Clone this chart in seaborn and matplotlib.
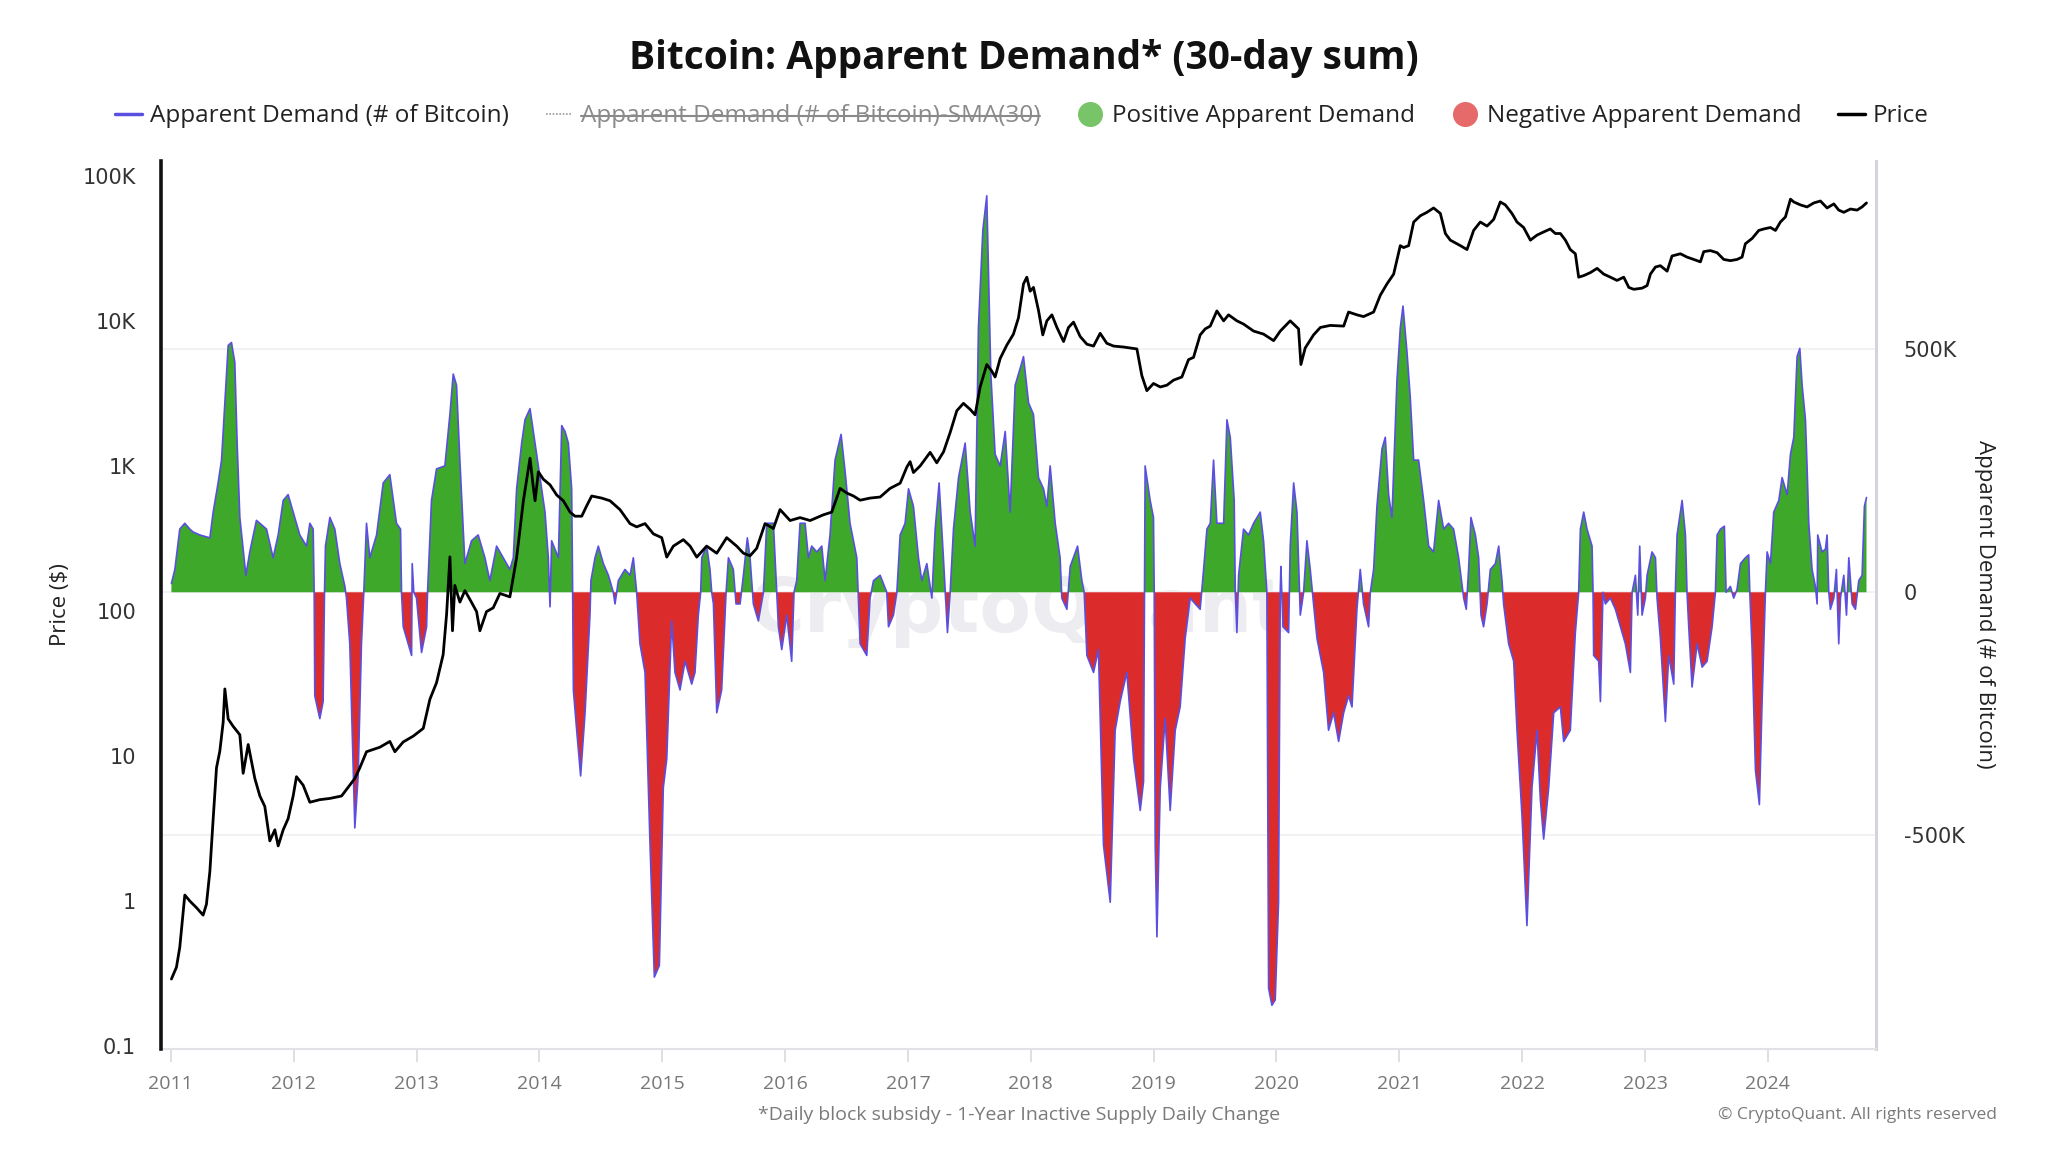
import numpy as np
import pandas as pd
import matplotlib
matplotlib.use("Agg")
import matplotlib.pyplot as plt
import seaborn as sns
from matplotlib.lines import Line2D

# ---------------- data ----------------
years = list(range(2011, 2025))
year_labels = [str(y) for y in years]

price_ticks = [0.1, 1, 10, 100, 1000, 10000, 100000]
price_tick_labels = ["0.1", "1", "10", "100", "1K", "10K", "100K"]
demand_ticks = [-500000, 0, 500000]
demand_tick_labels = ["-500K", "0", "500K"]

# Apparent demand, 30-day sum (thousands of BTC)
demand_year = [
    2011.005, 2011.033, 2011.073, 2011.114, 2011.155, 2011.182, 2011.236, 2011.318, 2011.345, 2011.385,
    2011.413, 2011.440, 2011.467, 2011.494, 2011.521, 2011.540, 2011.562, 2011.611, 2011.643, 2011.697,
    2011.779, 2011.833, 2011.874, 2011.915, 2011.955, 2011.996, 2012.050, 2012.105, 2012.132, 2012.159,
    2012.167, 2012.172, 2012.213, 2012.240, 2012.251, 2012.259, 2012.295, 2012.335, 2012.376, 2012.417,
    2012.430, 2012.457, 2012.498, 2012.525, 2012.552, 2012.571, 2012.593, 2012.620, 2012.675, 2012.729,
    2012.783, 2012.837, 2012.870, 2012.878, 2012.892, 2012.960, 2012.965, 2012.978, 2013.000, 2013.041,
    2013.082, 2013.090, 2013.122, 2013.163, 2013.231, 2013.272, 2013.299, 2013.326, 2013.353, 2013.394,
    2013.448, 2013.502, 2013.557, 2013.597, 2013.652, 2013.706, 2013.760,
    2013.788, 2013.815, 2013.856, 2013.883, 2013.924, 2013.951, 2013.978, 2014.005, 2014.046, 2014.073,
    2014.087, 2014.100, 2014.155, 2014.182, 2014.209, 2014.236, 2014.263, 2014.271, 2014.277, 2014.304,
    2014.336, 2014.372, 2014.412, 2014.420, 2014.453, 2014.480, 2014.521, 2014.562, 2014.602, 2014.616,
    2014.643, 2014.697, 2014.738, 2014.765, 2014.792, 2014.819, 2014.860, 2014.901, 2014.936, 2014.977,
    2015.009, 2015.037, 2015.077, 2015.104, 2015.145, 2015.186, 2015.240, 2015.267, 2015.294, 2015.313,
    2015.322, 2015.362, 2015.389, 2015.403, 2015.417, 2015.444, 2015.484, 2015.520, 2015.539, 2015.579,
    2015.601, 2015.634, 2015.661, 2015.693, 2015.715, 2015.742, 2015.783, 2015.824, 2015.851, 2015.905,
    2015.932, 2015.946, 2015.973, 2016.014, 2016.054, 2016.073, 2016.095, 2016.122, 2016.163, 2016.190,
    2016.217, 2016.258, 2016.299, 2016.326, 2016.366, 2016.407, 2016.456, 2016.489, 2016.529, 2016.584,
    2016.611,
    2016.665, 2016.692, 2016.720, 2016.774, 2016.828, 2016.842, 2016.882, 2016.910, 2016.937, 2016.977,
    2017.005, 2017.045, 2017.086, 2017.113, 2017.154, 2017.195, 2017.222, 2017.254, 2017.289, 2017.322,
    2017.344, 2017.371, 2017.412, 2017.466, 2017.507, 2017.547, 2017.574, 2017.610, 2017.642, 2017.675,
    2017.710, 2017.751, 2017.792, 2017.832, 2017.873, 2017.914, 2017.941, 2017.982, 2018.022, 2018.063,
    2018.104, 2018.131, 2018.158, 2018.199, 2018.239, 2018.253, 2018.294, 2018.321, 2018.381, 2018.416,
    2018.435, 2018.457, 2018.511, 2018.551, 2018.592, 2018.647, 2018.687, 2018.728, 2018.782, 2018.837,
    2018.891, 2018.918, 2018.926, 2018.931, 2018.972, 2018.999, 2019.005, 2019.013, 2019.027, 2019.054,
    2019.094, 2019.135, 2019.176, 2019.216, 2019.257, 2019.298, 2019.339, 2019.379, 2019.407, 2019.434,
    2019.461,
    2019.488, 2019.515, 2019.570, 2019.597, 2019.624, 2019.656, 2019.665, 2019.678, 2019.692, 2019.732,
    2019.773, 2019.814, 2019.868, 2019.895, 2019.922, 2019.936, 2019.963, 2019.990, 2020.017, 2020.031,
    2020.036, 2020.053, 2020.099, 2020.112, 2020.140, 2020.167, 2020.194, 2020.221, 2020.248, 2020.275,
    2020.302, 2020.330, 2020.384, 2020.424, 2020.465, 2020.506, 2020.547, 2020.587, 2020.615, 2020.655,
    2020.682, 2020.709, 2020.750, 2020.764, 2020.791, 2020.818, 2020.859, 2020.886, 2020.913, 2020.940,
    2020.981, 2021.008, 2021.030, 2021.062, 2021.089, 2021.117, 2021.157, 2021.198, 2021.239, 2021.279,
    2021.320, 2021.361, 2021.401, 2021.442, 2021.483, 2021.524, 2021.545, 2021.564, 2021.583, 2021.619,
    2021.646, 2021.665, 2021.686, 2021.714, 2021.741, 2021.782, 2021.809, 2021.836, 2021.849, 2021.890,
    2021.931, 2021.958, 2021.999, 2022.039, 2022.080, 2022.121, 2022.148, 2022.175, 2022.216, 2022.257,
    2022.311,
    2022.338, 2022.392, 2022.433, 2022.460, 2022.474, 2022.501, 2022.528, 2022.569, 2022.577, 2022.582,
    2022.623, 2022.637, 2022.658, 2022.677, 2022.718, 2022.759, 2022.800, 2022.840, 2022.881, 2022.895,
    2022.922, 2022.941, 2022.957, 2022.976, 2023.003, 2023.017, 2023.057, 2023.085, 2023.098, 2023.125,
    2023.166, 2023.193, 2023.234, 2023.247, 2023.261, 2023.302, 2023.329, 2023.342, 2023.356, 2023.383,
    2023.424, 2023.465, 2023.505, 2023.546, 2023.573, 2023.587, 2023.614, 2023.646, 2023.660, 2023.695,
    2023.722, 2023.749, 2023.777, 2023.817, 2023.844, 2023.853, 2023.872, 2023.899, 2023.931, 2023.953,
    2023.980, 2023.994, 2024.021, 2024.048, 2024.089, 2024.116, 2024.157, 2024.184, 2024.211, 2024.238,
    2024.260, 2024.279, 2024.306, 2024.319, 2024.333, 2024.360, 2024.387, 2024.401, 2024.406, 2024.441,
    2024.469, 2024.482, 2024.496, 2024.509, 2024.537, 2024.558, 2024.577, 2024.591, 2024.618, 2024.640,
    2024.659, 2024.686, 2024.713, 2024.740, 2024.767, 2024.786, 2024.803,
]
demand_k = [
    18, 47, 130, 142, 130, 124, 118, 112, 165, 225,
    272, 390, 508, 514, 473, 307, 154, 35, 83, 148,
    130, 71, 118, 189, 201, 165, 118, 95, 142, 130,
    0, -213, -260, -225, 0, 95, 154, 130, 59, 12,
    -12, -106, -485, -378, -106, 0, 142, 71, 118, 225,
    242, 142, 130, 0, -71, -130, 59, 0, -12, -124,
    -71, 0, 189, 254, 260, 366, 449, 426, 272, 59,
    106, 118, 71, 24, 95, 71, 47,
    71, 213, 307, 355, 378, 331, 284, 236, 165, 71,
    -30, 106, 71, 343, 331, 307, 213, 0, -201, -284,
    -378, -248, -47, 24, 71, 95, 59, 35, 0, -24,
    24, 47, 35, 71, 0, -106, -165, -520, -792, -768,
    -402, -343, -59, -165, -201, -142, -189, -165, -47, 0,
    71, 95, 47, 0, -24, -248, -201, 0, 71, 47,
    -24, -24, 35, 112, 71, -24, -59, 0, 142, 142,
    0, -71, -118, -47, -142, 0, 24, 142, 142, 71,
    95, 83, 95, 24, 118, 272, 325, 248, 142, 71,
    -106,
    -130, -12, 24, 35, 0, -71, -47, 0, 118, 142,
    213, 177, 71, 24, 59, -12, 130, 225, 71, -83,
    0, 130, 236, 307, 165, 95, 544, 745, 816, 449,
    284, 260, 331, 165, 426, 461, 485, 390, 366, 236,
    213, 177, 260, 142, 71, -12, -35, 53, 95, 24,
    0, -130, -165, -118, -520, -638, -284, -225, -165, -343,
    -449, -390, 0, 260, 189, 154, 0, -520, -709, -402,
    -260, -449, -284, -236, -95, -12, -24, -35, 47, 130,
    142,
    272, 142, 142, 355, 319, 189, 0, -83, 35, 130,
    118, 142, 165, 106, 0, -815, -850, -839, -638, 0,
    53, -71, -83, 95, 225, 165, -47, 0, 106, 47,
    -24, -95, -165, -284, -248, -307, -248, -213, -236, -35,
    47, -24, -71, 0, 47, 177, 295, 319, 201, 154,
    437, 544, 589, 496, 402, 272, 272, 189, 95, 83,
    189, 130, 142, 130, 71, -12, -35, 47, 154, 118,
    71, -47, -71, -24, 47, 59, 95, 24, -24, -106,
    -142, -284, -461, -686, -402, -284, -426, -508, -402, -248,
    -236,
    -307, -284, -83, 0, 130, 165, 130, 95, 0, -130,
    -142, -225, 0, -24, -12, -35, -71, -106, -165, 0,
    35, -47, 95, -47, -12, 35, 83, 71, -12, -95,
    -266, -130, -189, 0, 118, 189, 118, 0, -71, -195,
    -106, -154, -142, -71, 0, 118, 130, 136, 0, 12,
    -12, 6, 59, 71, 77, 0, -118, -366, -437, -225,
    0, 83, 59, 165, 189, 236, 201, 284, 319, 485,
    502, 426, 355, 260, 142, 47, 12, -24, 118, 83,
    89, 118, 0, -35, -12, 47, -106, -12, 35, -47,
    71, -24, -35, 24, 35, 177, 195,
]

# Bitcoin price (USD)
price_year = [
    2011.005, 2011.046, 2011.073, 2011.114, 2011.155, 2011.209, 2011.263, 2011.290, 2011.318, 2011.345,
    2011.372, 2011.399, 2011.426, 2011.440, 2011.467, 2011.508, 2011.562, 2011.589, 2011.630, 2011.684,
    2011.725, 2011.765, 2011.806, 2011.847, 2011.874, 2011.915, 2011.955, 2011.996, 2012.023, 2012.077,
    2012.132, 2012.213, 2012.295, 2012.390, 2012.457, 2012.498, 2012.539, 2012.593, 2012.634, 2012.702,
    2012.783, 2012.824, 2012.892, 2012.973, 2013.055, 2013.109, 2013.163, 2013.217, 2013.245, 2013.272,
    2013.293, 2013.312, 2013.353, 2013.394, 2013.435, 2013.489, 2013.516, 2013.570, 2013.624, 2013.679,
    2013.760,
    2013.815, 2013.870, 2013.924, 2013.951, 2013.965, 2013.992, 2014.032, 2014.087, 2014.141, 2014.195,
    2014.250, 2014.290, 2014.345, 2014.385, 2014.426, 2014.507, 2014.575, 2014.656, 2014.738, 2014.792,
    2014.860, 2014.928, 2014.996, 2015.037, 2015.091, 2015.172, 2015.227, 2015.281, 2015.362, 2015.444,
    2015.525, 2015.606, 2015.661, 2015.715, 2015.769, 2015.837, 2015.905, 2015.959, 2016.041, 2016.122,
    2016.204, 2016.312, 2016.380, 2016.448, 2016.502, 2016.557, 2016.611,
    2016.692, 2016.774, 2016.855, 2016.937, 2016.991, 2017.018, 2017.045, 2017.100, 2017.181, 2017.235,
    2017.290, 2017.344, 2017.398, 2017.452, 2017.507, 2017.547, 2017.588, 2017.642, 2017.683, 2017.710,
    2017.751, 2017.805, 2017.859, 2017.900, 2017.941, 2017.968, 2017.995, 2018.022, 2018.063, 2018.098,
    2018.131, 2018.172, 2018.213, 2018.267, 2018.307, 2018.348, 2018.402, 2018.457, 2018.511, 2018.565,
    2018.619, 2018.674, 2018.755, 2018.864, 2018.904, 2018.945, 2018.999, 2019.054, 2019.108, 2019.162,
    2019.230, 2019.284, 2019.325, 2019.379, 2019.420, 2019.461,
    2019.515, 2019.570, 2019.610, 2019.678, 2019.732, 2019.814, 2019.895, 2019.977, 2020.031, 2020.112,
    2020.180, 2020.199, 2020.234, 2020.302, 2020.357, 2020.438, 2020.547, 2020.587, 2020.655, 2020.709,
    2020.791, 2020.845, 2020.900, 2020.954, 2021.008, 2021.035, 2021.076, 2021.117, 2021.171, 2021.225,
    2021.279, 2021.334, 2021.375, 2021.415, 2021.497, 2021.551, 2021.605, 2021.659, 2021.714, 2021.768,
    2021.822, 2021.863, 2021.917, 2021.958, 2022.012, 2022.067, 2022.121, 2022.175, 2022.229, 2022.270,
    2022.311,
    2022.352, 2022.392, 2022.433, 2022.460, 2022.501, 2022.555, 2022.610, 2022.664, 2022.718, 2022.772,
    2022.827, 2022.868, 2022.908, 2022.976, 2023.017, 2023.044, 2023.085, 2023.125, 2023.180, 2023.220,
    2023.288, 2023.342, 2023.397, 2023.451, 2023.478, 2023.532, 2023.587, 2023.641, 2023.695, 2023.749,
    2023.790, 2023.817, 2023.872, 2023.926, 2023.967, 2024.021, 2024.062, 2024.102, 2024.143, 2024.184,
    2024.211, 2024.265, 2024.319, 2024.374, 2024.428, 2024.482, 2024.537, 2024.577, 2024.618, 2024.672,
    2024.726, 2024.767, 2024.803,
]
price_usd = [
    0.29, 0.35, 0.48, 1.1, 1.0, 0.9, 0.8, 0.95, 1.6, 3.7,
    8.3, 10.8, 17, 29, 18, 16, 14, 7.6, 12, 7,
    5.3, 4.5, 2.6, 3.1, 2.4, 3.1, 3.7, 5.3, 7.2, 6.3,
    4.8, 5.0, 5.1, 5.3, 6.3, 7.0, 8.3, 10.7, 11, 11.5,
    12.6, 10.7, 12.5, 13.7, 15.5, 24.6, 32, 50, 95, 236,
    73, 150, 115, 138, 120, 99, 73, 99, 105, 132,
    125,
    233, 575, 1130, 710, 575, 910, 810, 740, 630, 575,
    480, 450, 450, 530, 620, 600, 575, 500, 400, 380,
    400, 340, 320, 235, 280, 310, 280, 235, 280, 250,
    320, 280, 250, 240, 270, 400, 370, 500, 420, 440,
    420, 460, 480, 700, 650, 620, 580,
    600, 610, 700, 760, 980, 1070, 900, 1000, 1240, 1050,
    1250, 1700, 2400, 2700, 2450, 2250, 3500, 5000, 4500, 4100,
    5500, 6800, 8100, 10500, 18000, 20000, 16000, 17000, 11800, 8000,
    10000, 11000, 9000, 7200, 9000, 9800, 7800, 6900, 6700, 8200,
    7000, 6700, 6600, 6400, 4200, 3300, 3700, 3500, 3600, 3900,
    4100, 5400, 5600, 8000, 8800, 9200,
    11700, 10000, 11000, 10000, 9500, 8500, 8100, 7300, 8500, 10000,
    8800, 5000, 6500, 8000, 9000, 9300, 9200, 11500, 11000, 10700,
    11500, 15000, 18000, 21000, 33000, 32000, 33000, 48000, 53000, 56000,
    60000, 55000, 40000, 36000, 33000, 31000, 42000, 48000, 45000, 50000,
    66000, 63000, 55000, 48000, 44000, 36000, 39000, 41000, 43000, 40000,
    40000,
    36000, 31000, 29000, 20000, 20500, 21500, 23000, 21000, 20000, 19000,
    20000, 17000, 16500, 16800, 17500, 21000, 23500, 24000, 22000, 28000,
    29000, 27500, 26500, 25500, 30000, 30500, 29500, 26500, 26000, 26500,
    27500, 34000, 37000, 42000, 43000, 44000, 42000, 48000, 52000, 69000,
    66000, 63000, 61000, 65000, 67000, 60000, 64000, 58000, 56000, 59000,
    58000, 61000, 65000,
]

legend_labels = ["Apparent Demand (# of Bitcoin)", "Apparent Demand (# of Bitcoin)-SMA(30)",
                 "Positive Apparent Demand", "Negative Apparent Demand", "Price"]

# ---------------- styling ----------------
GREEN = "#3ea82a"
RED = "#dc2b2b"
BLUE = "#5b4fe0"
GREEN_LEG = "#78c468"
RED_LEG = "#e66a6a"

sns.set_theme(style="white")
plt.rcParams['font.family'] = ['Open Sans', 'DejaVu Sans']

fig = plt.figure(figsize=(20.48, 11.52), dpi=100)
ax = fig.add_axes([0.0786, 0.0894, 0.8374, 0.7706])   # demand (right axis), drawn first
ax2 = ax.twinx()                                     # price (left axis, log), drawn on top

dem = pd.DataFrame({"year": demand_year, "btc": np.array(demand_k, dtype=float) * 1000})
pr = pd.DataFrame({"year": price_year, "price": price_usd})

# watermark
ax.text(2017.9, -40000, "CryptoQuant", fontsize=54, color="#ececf1", ha="center", va="center",
        zorder=0, fontweight="bold", family=["DejaVu Sans"])

ax.fill_between(dem.year, dem.btc, 0, where=dem.btc >= 0, interpolate=True, color=GREEN, lw=0, zorder=2)
ax.fill_between(dem.year, dem.btc, 0, where=dem.btc <= 0, interpolate=True, color=RED, lw=0, zorder=2)
sns.lineplot(data=dem, x="year", y="btc", ax=ax, color=BLUE, lw=1.2, legend=False, zorder=3, sort=False)

ax2.set_yscale("log")
sns.lineplot(data=pr, x="year", y="price", ax=ax2, color="black", lw=2.0, legend=False, sort=False)

# limits
ax.set_xlim(2010.92, 2024.88)
ax.set_ylim(-940000, 887000)
ax2.set_ylim(10 ** -1.02, 10 ** 5.10)

# axes placement
ax.yaxis.tick_right()
ax2.yaxis.tick_left()
ax.set_xlabel("")
ax.set_ylabel("")
ax2.set_xlabel("")
ax2.set_ylabel("")

ax.set_yticks(demand_ticks)
ax.set_yticklabels(demand_tick_labels)
ax.grid(axis="y", color="#f0f0f2", lw=1.2, zorder=0)
ax.grid(axis="x", visible=False)
ax.set_axisbelow(True)

ax2.set_yticks(price_ticks)
ax2.set_yticklabels(price_tick_labels)
ax2.yaxis.set_minor_locator(matplotlib.ticker.NullLocator())
ax2.grid(False)

ax.set_xticks(years)
ax.set_xticklabels(year_labels)

ax.tick_params(axis="y", which="both", length=0, pad=20, labelsize=15, labelcolor="#333333",
               labelfontfamily="DejaVu Sans")
ax2.tick_params(axis="y", which="both", length=0, pad=18, labelsize=15, labelcolor="#333333",
                labelfontfamily="DejaVu Sans")
ax.tick_params(axis="x", length=9, width=1.2, color="#d8d8de", pad=10, labelsize=14, labelcolor="#777777",
               direction="out", bottom=True)

for s in ["top", "left"]:
    ax.spines[s].set_visible(False)
ax.spines["right"].set_color("#d4d4dc")
ax.spines["right"].set_linewidth(2.2)
ax.spines["bottom"].set_color("#e2e2e6")
ax.spines["bottom"].set_linewidth(1.5)
for s in ["top", "right", "bottom"]:
    ax2.spines[s].set_visible(False)
ax2.spines["left"].set_color("#111111")
ax2.spines["left"].set_linewidth(2.6)

# axis titles
fig.text(0.0293, 0.475, "Price ($)", rotation=90, ha="center", va="center", fontsize=16, color="#222222")
fig.text(0.969, 0.475, "Apparent Demand (# of Bitcoin)", rotation=270, ha="center", va="center",
         fontsize=16, color="#222222")

# title
fig.text(0.4997, 0.949, "Bitcoin: Apparent Demand* (30-day sum)", ha="center", va="center",
         fontsize=28, fontweight="bold", color="#111111")

# legend
handles = [
    Line2D([0], [0], color=BLUE, lw=2.5),
    Line2D([0], [0], color="#9a9a9a", lw=1.2, ls=(0, (1, 1))),
    Line2D([0], [0], marker="o", color="none", markerfacecolor=GREEN_LEG, markeredgecolor=GREEN_LEG, markersize=17),
    Line2D([0], [0], marker="o", color="none", markerfacecolor=RED_LEG, markeredgecolor=RED_LEG, markersize=17),
    Line2D([0], [0], color="black", lw=2.5),
]
leg = fig.legend(handles, legend_labels, loc="center", bbox_to_anchor=(0.499, 0.899), ncol=5, frameon=False,
                 fontsize=17.5, handlelength=1.1, handletextpad=0.35, columnspacing=1.5)
for i, t in enumerate(leg.get_texts()):
    t.set_color("#8a8a8a" if i == 1 else "#222222")

# footnotes
fig.text(0.4975, 0.032, "*Daily block subsidy - 1-Year Inactive Supply Daily Change", ha="center", va="center",
         fontsize=14, color="#7a7a7a")
fig.text(0.975, 0.032, "\u00a9 CryptoQuant. All rights reserved", ha="right", va="center",
         fontsize=12.5, color="#7a7a7a")

# strikethrough for the SMA legend entry
fig.canvas.draw()
renderer = fig.canvas.get_renderer()
bb = leg.get_texts()[1].get_window_extent(renderer).transformed(fig.transFigure.inverted())
ymid = bb.y0 + bb.height * 0.52
fig.add_artist(Line2D([bb.x0, bb.x1], [ymid, ymid], transform=fig.transFigure, color="#8a8a8a", lw=1.5))

fig.savefig("out.png", dpi=100)
